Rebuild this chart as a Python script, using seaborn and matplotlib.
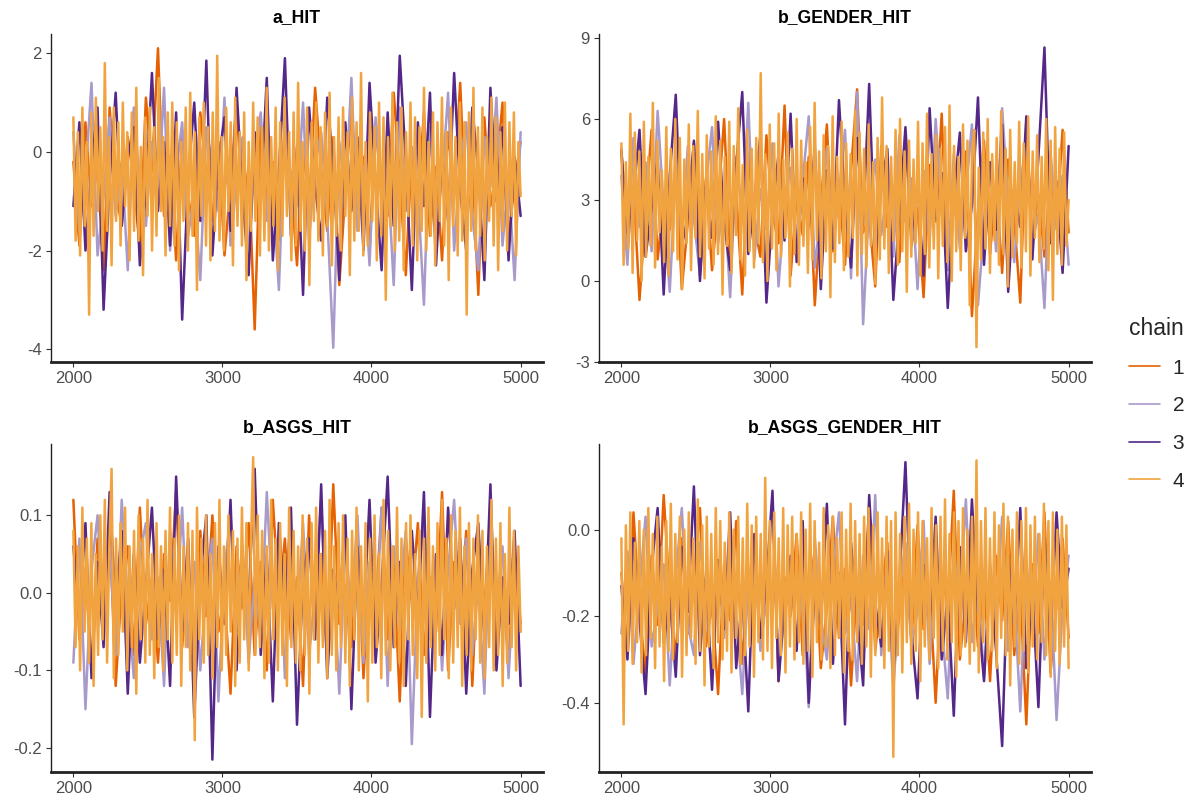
import numpy as np
import pandas as pd
import matplotlib
matplotlib.use("Agg")
import matplotlib.pyplot as plt
from matplotlib.lines import Line2D
import seaborn as sns

# draws per chain, thinned and read by eye off the trace plot
# (chain 4 is drawn on top and forms the orange band, so it is kept denser)
a_hit_c1 = [-0.2, -1.9, 0.6, -1.1, -0.3, -2.4, 0.9, -0.8, -1.5, 0.3, -0.6, -2.0, 1.1, -0.4, 2.1,
            -1.3, -0.1, -2.2, 0.4, -0.9, -1.7, 0.8, -0.5, -1.4, 0.2, -2.1, -0.7, 1.0, -1.2, -0.3,
            -3.6, 0.5, -1.0, -0.2, -1.8, 0.7, -0.6, -2.3, 0.1, -1.1, 1.3, -0.4, -1.6, 0.3, -2.7,
            -0.8, 0.9, -1.4, -0.1, -2.0, 0.6, -0.9, -1.3, 1.2, -0.5, -2.5, 0.0, -1.0, 0.8, -1.7,
            -0.3, -2.2, 0.4, -0.7, 1.4, -1.5, -0.2, -2.9, 0.7, -1.1, -0.4, 1.0, -1.8, -0.6, 0.2]
a_hit_c2 = [0.4, -1.6, -0.5, 1.4, -2.1, -0.9, 0.7, -1.3, -0.2, -2.4, 0.9, -0.7, -1.5, 0.2, -1.0,
            1.3, -2.0, -0.4, 0.6, -1.7, -0.8, -2.6, 0.5, -0.3, -1.2, 1.1, -1.9, -0.6, 0.3, -2.2,
            -0.1, 0.8, -1.4, -0.7, -2.8, 0.6, -0.5, -1.1, 1.0, -1.8, -0.2, 0.4, -1.3, -3.97, 0.2,
            -0.9, 1.5, -1.6, -0.3, -2.3, 0.7, -1.0, -0.4, -2.7, 0.9, -1.2, 0.1, -0.8, -3.1, 0.5,
            -1.5, -0.6, 1.2, -2.0, -0.2, 0.6, -1.3, -2.4, 0.3, -0.7, 1.1, -1.9, -0.5, -2.6, 0.4]
a_hit_c3 = [-1.1, 0.6, -2.0, -0.3, 0.9, -3.2, -0.6, 1.2, -1.5, -0.1, 0.5, -2.3, -0.8, 1.6, -1.2,
            0.2, -1.9, 0.8, -3.4, -0.5, 1.0, -1.4, 1.85, -2.1, -0.2, 0.7, -1.6, 1.3, -0.9, -2.5,
            0.4, -1.0, 1.5, -2.2, -0.4, 1.9, -1.7, 0.1, -2.9, 0.9, -0.7, -1.8, 1.1, -0.3, -2.6,
            0.6, -1.2, 0.3, -2.0, 1.4, -0.6, -2.4, 0.8, -1.5, 1.95, -0.2, -2.8, 0.6, -1.1, 1.2,
            -2.3, 0.0, -1.4, 1.6, -0.8, -2.0, 0.9, -0.4, -2.6, 1.3, -1.0, 0.5, -2.2, -0.1, -1.3]
a_hit_c4 = [0.7, -1.8, 0.4, -2.1, 0.9, -1.5, 0.2, -3.3, 0.8, -1.7, 1.1, -1.2, 0.5, -2.0, 1.8, -1.6, 0.3, -2.3, 0.9, -1.4,
            0.6, -1.9, 1.0, -1.1, 0.4, -2.2, 0.8, -1.6, 1.3, -1.8, 0.1, -2.5, 0.7, -1.3, 0.9, -2.0, 0.5, -1.7, 1.5, -1.2,
            0.3, -2.1, 0.8, -1.5, 1.0, -1.9, 0.6, -2.4, 0.2, -1.4, 0.9, -2.0, 1.2, -1.7, 0.4, -2.8, 0.7, -1.3, 1.0, -1.9,
            0.5, -2.2, 0.8, -1.6, 1.95, -1.8, 0.3, -2.0, 0.9, -1.2, 0.6, -2.3, 1.1, -1.5, 0.4, -1.9, 0.8, -2.6, 0.2, -1.6,
            1.0, -1.4, 0.7, -2.1, 0.5, -1.8, 1.3, -2.0, 0.3, -1.5, 0.9, -2.4, 0.6, -1.7, 1.1, -1.3, 0.4, -2.2, 0.8, -1.9,
            1.4, -1.6, 0.2, -2.0, 0.9, -2.7, 0.6, -1.4, 1.0, -1.8, 0.5, -2.1, 0.8, -1.5, 1.2, -2.3, 0.3, -1.7, 0.7, -2.0,
            0.9, -1.3, 0.4, -2.5, 1.1, -1.8, 0.6, -1.6, 1.6, -2.1, 0.2, -1.9, 0.8, -1.4, 0.5, -2.2, 1.0, -1.7, 0.7, -3.0,
            0.3, -1.5, 1.2, -2.0, 0.6, -1.8, 0.9, -2.4, 0.4, -1.3, 1.0, -1.9, 0.7, -2.2, 0.5, -1.6, 1.3, -2.0, 0.2, -1.7,
            0.8, -2.3, 0.6, -1.4, 1.1, -1.9, 0.4, -2.6, 0.9, -1.5, 0.3, -2.1, 1.0, -1.8, 0.6, -3.3, 0.8, -1.6, 1.3, -2.0,
            0.5, -1.7, 0.9, -2.2, 0.3, -1.4, 1.1, -1.9, 0.7, -2.4, 0.4, -1.6, 1.0, -2.0, 0.6, -1.3, 0.8, -2.1, 0.2, -0.9]

gender_c1 = [4.9, 1.2, 3.5, -0.7, 2.6, 5.6, 0.8, 3.0, 1.9, 4.4, -0.3, 2.2, 5.1, 1.5, 3.8,
             0.4, 2.9, 6.0, 1.0, 3.3, -0.5, 4.7, 2.1, 0.9, 5.4, 2.5, 1.4, 6.5, 0.2, 3.1,
             1.7, 4.6, -0.9, 2.8, 5.8, 1.1, 3.6, 0.6, 4.1, 7.1, 1.8, 2.4, -0.2, 5.0, 2.0,
             3.4, 0.7, 5.5, 1.3, 2.7, -0.6, 4.3, 2.2, 6.2, 0.5, 3.0, 1.6, 4.8, -1.3, 2.6,
             5.2, 1.0, 3.7, 0.3, 4.5, 2.3, -0.8, 5.9, 1.5, 3.2, 0.9, 4.0, 2.1, 5.6, 1.8]
gender_c2 = [3.9, 0.6, 5.3, 2.0, 4.4, 1.1, 6.3, 2.7, -0.4, 4.0, 1.6, 5.0, 2.3, 0.2, 3.6,
             5.7, 1.4, 3.1, -0.6, 4.6, 2.4, 6.6, 0.8, 3.4, 1.9, 5.1, -0.2, 2.8, 4.2, 1.0,
             3.7, 6.1, 0.5, 2.5, 4.9, 1.3, 3.2, 5.6, 0.1, 7.0, -1.6, 2.9, 4.5, 1.7, 3.5,
             0.9, 5.4, 2.2, 3.8, -0.3, 4.1, 1.5, 6.0, 2.6, 0.4, 4.7, 1.2, 3.3, 5.8, -0.9,
             2.0, 4.3, 1.1, 6.4, 2.9, 0.7, 3.6, 5.2, 1.4, 2.5, -1.0, 4.8, 1.9, 3.9, 0.6]
gender_c3 = [4.8, 1.8, 3.2, 5.6, 0.9, 2.7, 4.5, -0.5, 3.9, 6.9, 1.3, 2.4, 5.2, 0.0, 3.5,
             1.6, 5.9, 2.2, 0.4, 4.3, 7.0, 1.0, 3.0, 5.4, -0.8, 2.6, 4.7, 1.5, 6.2, 0.7,
             3.8, 2.0, 5.0, -0.3, 4.1, 1.2, 6.7, 2.9, 0.5, 5.3, 2.1, 7.3, 0.9, 3.4, 4.9,
             -0.7, 2.5, 5.7, 1.7, 3.6, 0.2, 6.4, 2.3, 4.0, -1.0, 3.1, 5.5, 1.1, 2.8, 6.8,
             0.6, 4.4, 1.9, 5.8, -0.4, 3.3, 2.0, 6.1, 0.8, 4.6, 8.65, 1.4, 3.7, 0.3, 5.0]
gender_c4 = [5.1, 0.6, 4.4, 1.2, 6.2, 0.3, 5.5, 1.5, 4.8, 0.0, 5.9, 0.9, 4.6, 1.3, 6.6, 0.5, 5.2, 1.8, 4.1, 0.7,
             5.7, 0.2, 4.9, 1.1, 6.0, 0.8, 5.3, -0.3, 4.5, 1.4, 5.8, 0.4, 5.0, 1.6, 6.3, 0.9, 4.7, 0.1, 5.4, 1.2,
             4.8, 0.6, 6.1, 1.0, 5.2, -0.5, 4.6, 1.3, 5.9, 0.3, 5.0, 1.7, 6.4, 0.8, 4.3, 0.2, 5.6, 1.1, 4.9, 0.5,
             5.3, 1.4, 7.7, 0.7, 4.7, 0.0, 5.8, 1.2, 5.1, 0.4, 6.2, 0.9, 4.5, 1.6, 5.5, -0.2, 4.9, 1.0, 6.0, 0.6,
             5.2, 1.3, 4.4, 0.3, 5.7, 0.8, 6.6, 1.5, 4.8, 0.1, 5.4, 1.1, 5.0, -0.6, 6.1, 0.7, 4.6, 1.4, 5.9, 0.4,
             5.1, 0.9, 4.7, 1.6, 6.3, 0.2, 5.5, 1.0, 4.9, 0.5, 5.8, 1.3, 4.4, -0.1, 5.3, 0.8, 6.8, 1.2, 5.0, 0.3,
             4.6, 1.5, 5.6, 0.6, 6.0, 1.1, 4.8, -0.4, 5.2, 0.9, 4.5, 1.4, 5.9, 0.2, 5.1, 1.0, 6.2, 0.5, 4.7, 1.2,
             5.4, 0.1, 4.9, 1.3, 5.7, 0.7, 6.5, 0.0, 5.0, 1.1, 4.6, 0.4, 5.8, 1.6, 5.2, -0.9, 4.8, 5.6, -2.45, 4.2,
             0.8, 5.5, 1.2, 6.0, 0.3, 4.7, 1.5, 5.3, 0.6, 6.3, 1.0, 4.9, -0.2, 5.6, 0.9, 4.4, 1.4, 5.9, 0.5, 5.1,
             1.1, 6.1, 0.2, 4.8, 1.6, 5.4, 0.7, 4.6, 1.2, 6.0, 0.4, 5.2, -0.7, 5.7, 1.0, 4.9, 0.6, 5.5, 1.3, 3.0]

asgs_c1 = [0.12, -0.06, 0.03, -0.10, 0.07, -0.02, 0.09, -0.12, 0.01, 0.06, -0.08, 0.11, -0.04, 0.02, -0.09,
           0.05, -0.01, 0.13, -0.07, 0.03, -0.11, 0.08, -0.03, 0.10, -0.05, 0.00, -0.13, 0.06, -0.02, 0.09,
           -0.08, 0.04, -0.10, 0.12, -0.01, 0.07, -0.06, 0.02, -0.12, 0.10, -0.03, 0.05, -0.09, 0.14, -0.04,
           0.01, -0.07, 0.08, -0.11, 0.03, -0.02, 0.11, -0.06, 0.04, -0.14, 0.07, -0.01, 0.09, -0.08, 0.02,
           -0.05, 0.13, -0.10, 0.04, -0.03, 0.08, -0.12, 0.06, -0.02, 0.10, -0.07, 0.01, -0.09, 0.05, -0.04]
asgs_c2 = [-0.09, 0.07, -0.15, 0.03, 0.10, -0.04, 0.06, -0.08, 0.12, -0.01, -0.11, 0.05, 0.09, -0.06, 0.02,
           -0.12, 0.08, -0.03, 0.11, -0.07, 0.04, -0.10, 0.01, 0.07, -0.14, 0.03, 0.10, -0.05, 0.06, -0.09,
           0.02, -0.06, 0.13, -0.02, 0.08, -0.11, 0.05, -0.04, 0.09, -0.08, 0.00, 0.12, -0.07, 0.03, -0.13,
           0.07, -0.03, 0.10, -0.09, 0.04, -0.05, 0.11, -0.12, 0.06, -0.01, 0.08, -0.195, 0.02, 0.09, -0.06,
           0.05, -0.10, 0.03, 0.12, -0.04, 0.07, -0.08, 0.01, -0.13, 0.09, -0.02, 0.06, -0.11, 0.04, -0.05]
asgs_c3 = [0.06, -0.03, 0.09, -0.11, 0.04, -0.07, 0.13, -0.02, 0.08, -0.13, 0.05, -0.09, 0.01, 0.11, -0.06,
           0.03, -0.12, 0.15, -0.05, 0.07, -0.16, 0.02, 0.10, -0.215, 0.06, -0.04, 0.12, -0.10, 0.04, -0.01,
           0.16, -0.08, 0.05, -0.14, 0.09, -0.03, 0.11, -0.17, 0.02, 0.07, -0.06, 0.14, -0.11, 0.03, -0.02,
           0.10, -0.15, 0.06, -0.04, 0.12, -0.09, 0.01, 0.15, -0.07, 0.04, -0.12, 0.08, -0.03, 0.13, -0.16,
           0.05, -0.08, 0.11, -0.02, 0.07, -0.13, 0.03, 0.09, -0.06, 0.14, -0.10, 0.02, -0.04, 0.08, -0.12]
asgs_c4 = [0.08, -0.07, 0.06, -0.10, 0.11, -0.05, 0.07, -0.09, 0.09, -0.12, 0.05, -0.08, 0.10, -0.06, 0.12, -0.09, 0.06, 0.16, -0.11, 0.07,
           -0.08, 0.09, -0.05, 0.11, -0.10, 0.06, -0.07, 0.08, -0.13, 0.10, -0.06, 0.07, -0.09, 0.12, -0.08, 0.05, -0.11, 0.09, -0.07, 0.06,
           -0.10, 0.08, -0.06, 0.11, -0.09, 0.07, -0.08, 0.10, -0.12, 0.06, -0.07, 0.09, -0.10, 0.08, -0.19, 0.11, -0.06, 0.07, -0.09, 0.10,
           -0.08, 0.05, -0.11, 0.09, -0.07, 0.12, -0.10, 0.06, -0.08, 0.10, -0.05, 0.08, -0.12, 0.07, -0.09, 0.11, -0.06, 0.09, -0.10, 0.06,
           0.175, -0.08, 0.10, -0.07, 0.08, -0.11, 0.06, -0.09, 0.12, -0.06, 0.07, -0.10, 0.09, -0.08, 0.05, -0.12, 0.11, -0.07, 0.08, -0.09,
           0.06, -0.10, 0.10, -0.08, 0.07, -0.13, 0.09, -0.06, 0.11, -0.09, 0.05, -0.07, 0.08, -0.11, 0.12, -0.08, 0.06, -0.10, 0.09, -0.07,
           0.10, -0.09, 0.07, -0.12, 0.08, -0.06, 0.11, -0.10, 0.06, -0.08, 0.09, -0.14, 0.07, -0.09, 0.10, -0.07, 0.05, -0.11, 0.12, -0.08,
           0.08, -0.10, 0.06, -0.07, 0.11, -0.09, 0.07, -0.12, 0.09, -0.06, 0.10, -0.08, 0.05, -0.11, 0.08, -0.16, 0.07, -0.09, 0.11, -0.07,
           0.06, -0.10, 0.09, -0.08, 0.12, -0.06, 0.07, -0.11, 0.10, -0.09, 0.08, -0.07, 0.11, -0.12, 0.06, -0.08, 0.09, -0.10, 0.07, -0.06,
           0.10, -0.09, 0.08, -0.11, 0.06, -0.07, 0.12, -0.10, 0.07, -0.08, 0.09, -0.12, 0.05, -0.09, 0.11, -0.07, 0.08, -0.10, 0.06, -0.05]

asgs_gender_c1 = [-0.10, -0.28, 0.04, -0.19, -0.33, -0.06, -0.22, 0.08, -0.15, -0.30, -0.02, -0.24, -0.12, 0.05, -0.27,
                  -0.17, -0.38, -0.08, -0.21, 0.02, -0.31, -0.13, -0.04, -0.26, -0.16, 0.07, -0.35, -0.11, -0.20, -0.01,
                  -0.29, -0.14, -0.05, -0.32, -0.18, 0.03, -0.25, -0.09, -0.36, -0.12, -0.22, 0.06, -0.28, -0.15, -0.03,
                  -0.34, -0.19, -0.07, -0.26, 0.01, -0.23, -0.13, -0.40, -0.10, -0.18, 0.09, -0.30, -0.16, -0.04, -0.27,
                  -0.12, -0.35, -0.06, -0.21, 0.02, -0.29, -0.14, -0.45, -0.08, -0.24, 0.04, -0.33, -0.17, -0.02, -0.25]
asgs_gender_c2 = [-0.24, -0.05, -0.31, -0.14, 0.03, -0.27, -0.18, -0.08, -0.36, -0.11, 0.05, -0.22, -0.29, -0.03, -0.17,
                  -0.33, -0.09, -0.25, 0.01, -0.20, -0.38, -0.12, -0.04, -0.28, -0.15, 0.06, -0.32, -0.19, -0.07, -0.26,
                  -0.13, -0.41, -0.02, -0.21, -0.30, -0.10, 0.04, -0.24, -0.16, -0.35, -0.06, -0.23, 0.08, -0.29, -0.11,
                  -0.37, -0.14, -0.03, -0.27, -0.19, 0.02, -0.31, -0.09, -0.22, -0.39, -0.05, -0.17, 0.07, -0.26, -0.13,
                  -0.34, -0.08, -0.20, 0.03, -0.28, -0.15, -0.42, -0.07, -0.23, -0.01, -0.30, -0.12, -0.44, -0.18, -0.06]
asgs_gender_c3 = [-0.13, -0.30, -0.02, -0.21, -0.38, -0.09, 0.05, -0.26, -0.16, -0.34, -0.04, -0.19, 0.10, -0.29, -0.11,
                  -0.37, -0.07, -0.23, 0.04, -0.32, -0.15, -0.42, -0.01, -0.25, -0.12, 0.09, -0.35, -0.18, -0.06, -0.28,
                  0.02, -0.40, -0.14, -0.22, 0.06, -0.31, -0.10, -0.45, -0.03, -0.20, -0.36, 0.08, -0.17, -0.27, -0.05,
                  -0.33, -0.12, 0.156, -0.24, -0.39, -0.08, -0.21, 0.03, -0.30, -0.15, -0.43, -0.04, -0.26, 0.07, -0.19,
                  -0.35, -0.11, -0.28, -0.50, -0.06, -0.23, 0.05, -0.32, -0.14, -0.41, -0.02, -0.25, 0.04, -0.18, -0.09]
asgs_gender_c4 = [-0.02, -0.45, 0.01, -0.28, 0.04, -0.31, -0.03, -0.26, 0.02, -0.33, 0.00, -0.29, 0.05, -0.25, -0.01, -0.32, 0.03, -0.27, -0.04, -0.35,
                  0.02, -0.28, 0.06, -0.30, -0.01, -0.26, 0.03, -0.34, 0.00, -0.29, 0.04, -0.25, -0.02, -0.31, 0.07, -0.28, 0.01, -0.36, 0.03, -0.27,
                  -0.01, -0.32, 0.05, -0.26, 0.02, -0.30, -0.03, -0.28, 0.04, -0.33, 0.00, -0.25, 0.03, -0.31, -0.02, -0.29, 0.06, -0.27, 0.01, -0.34,
                  0.03, -0.26, -0.01, -0.30, 0.12, -0.28, 0.02, -0.32, 0.04, -0.25, -0.02, -0.29, 0.05, -0.33, 0.01, -0.27, 0.03, -0.30, -0.01, -0.26,
                  0.04, -0.31, 0.00, -0.28, 0.06, -0.34, 0.02, -0.26, -0.03, -0.30, 0.05, -0.27, 0.01, -0.32, 0.03, -0.29, -0.02, -0.25, 0.04, -0.33,
                  0.00, -0.28, 0.06, -0.30, 0.02, -0.26, -0.01, -0.31, 0.03, -0.27, 0.05, -0.34, 0.01, -0.29, 0.04, -0.25, -0.02, -0.32, 0.03, -0.28,
                  0.02, -0.525, 0.04, -0.29, -0.01, -0.33, 0.03, -0.26, 0.06, -0.31, 0.00, -0.28, 0.04, -0.35, 0.02, -0.27, -0.02, -0.30, 0.05, -0.25,
                  0.01, -0.32, 0.03, -0.28, 0.07, -0.30, -0.01, -0.26, 0.04, -0.34, 0.02, -0.29, 0.05, -0.27, 0.00, -0.31, 0.03, -0.28, 0.16, -0.33,
                  0.02, -0.26, 0.05, -0.30, -0.02, -0.28, 0.04, -0.32, 0.01, -0.25, 0.06, -0.29, 0.03, -0.36, 0.00, -0.27, 0.04, -0.31, 0.02, -0.28,
                  0.05, -0.33, 0.01, -0.27, 0.03, -0.30, -0.01, -0.26, 0.06, -0.29, 0.02, -0.34, 0.04, -0.28, 0.00, -0.31, 0.03, -0.27, 0.01, -0.32]

chain_labels = ["1", "2", "3", "4"]
chain_colors = ["#E66101", "#A89ACB", "#542788", "#F1A340"]

panel_titles = ["a_HIT", "b_GENDER_HIT", "b_ASGS_HIT", "b_ASGS_GENDER_HIT"]
panel_chains = [
    [a_hit_c1, a_hit_c2, a_hit_c3, a_hit_c4],
    [gender_c1, gender_c2, gender_c3, gender_c4],
    [asgs_c1, asgs_c2, asgs_c3, asgs_c4],
    [asgs_gender_c1, asgs_gender_c2, asgs_gender_c3, asgs_gender_c4],
]
panel_yticks = [[-4, -2, 0, 2], [-3, 0, 3, 6, 9], [-0.2, -0.1, 0.0, 0.1], [-0.4, -0.2, 0.0]]
panel_yticklabels = [["-4", "-2", "0", "2"], ["-3", "0", "3", "6", "9"],
                     ["-0.2", "-0.1", "0.0", "0.1"], ["-0.4", "-0.2", "0.0"]]
panel_ylims = [(-4.26, 2.39), (-3.0, 9.15), (-0.231, 0.192), (-0.56, 0.198)]
x_ticks = [2000, 3000, 4000, 5000]

sns.set_theme(style="white")
plt.rcParams["font.family"] = ["Liberation Sans", "DejaVu Sans"]
plt.rcParams["axes.unicode_minus"] = False

W, H = 1190, 807
fig = plt.figure(figsize=(W / 100, H / 100), dpi=100)

# panel boxes in pixels: left, top
boxes = [(51, 34), (599, 34), (51, 444), (599, 444)]
pw, ph = 492, 328

for i in range(4):
    left, top = boxes[i]
    ax = fig.add_axes([left / W, (H - top - ph) / H, pw / W, ph / H])
    frames = []
    for lab, vals in zip(chain_labels, panel_chains[i]):
        frames.append(pd.DataFrame({
            "iteration": np.linspace(2001, 5000, len(vals)),
            "value": vals,
            "chain": lab,
        }))
    df = pd.concat(frames, ignore_index=True)
    sns.lineplot(data=df, x="iteration", y="value", hue="chain",
                 hue_order=chain_labels, palette=chain_colors,
                 estimator=None, sort=False, linewidth=1.8, legend=False, ax=ax)

    ax.set_xlim(1851, 5150)
    ax.set_ylim(*panel_ylims[i])
    ax.set_xticks(x_ticks)
    ax.set_xticklabels([str(t) for t in x_ticks])
    ax.set_yticks(panel_yticks[i])
    ax.set_yticklabels(panel_yticklabels[i])
    ax.set_xlabel("")
    ax.set_ylabel("")
    sns.despine(ax=ax)
    ax.spines["left"].set_linewidth(1.0)
    ax.spines["bottom"].set_linewidth(2.0)
    ax.spines["left"].set_color("#222222")
    ax.spines["bottom"].set_color("#222222")
    ax.tick_params(axis="both", length=3.5, width=0.8, color="#333333",
                   labelsize=12, labelcolor="#4D4D4D", pad=3,
                   bottom=True, left=True)
    ax.text(0.5, 1 + 16 / ph, panel_titles[i], transform=ax.transAxes,
            ha="center", va="center", fontsize=12.7, fontweight="bold", color="black")

handles = [Line2D([0], [0], color=c, lw=1.2) for c in chain_colors]
leg = fig.legend(handles, chain_labels, title="chain", loc="upper left",
                 bbox_to_anchor=(1110 / W, 1 - 298 / H), frameon=False,
                 fontsize=15, title_fontsize=16.5, handlelength=1.5,
                 handletextpad=0.6, labelspacing=0.9)
leg._legend_box.align = "left"

fig.savefig("out.png", dpi=100)
